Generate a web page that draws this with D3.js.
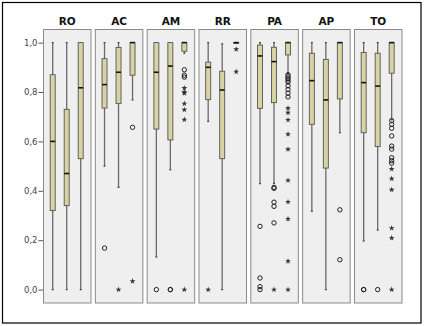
<!DOCTYPE html>
<html><head><meta charset="utf-8">
<script src="https://cdn.jsdelivr.net/npm/d3@7"></script>
<style>html,body{margin:0;padding:0;background:#fff;}svg{display:block;}</style>
</head><body>
<script>
const panels = ["RO","AC","AM","RR","PA","AP","TO"];
const yTicks = [0, 0.2, 0.4, 0.6, 0.8, 1.0];
// per panel, three boxes each
const whiskerLow  = [[0,0,0],[0.50,0.414,0.768],[0.132,0.485,0.957],[0.681,0,1],[0.429,0.43,0.875],[0.317,0,0.635],[0.197,0.241,0.687]];
const q1          = [[0.32,0.34,0.53],[0.735,0.753,0.868],[0.65,0.606,0.965],[0.769,0.53,1],[0.734,0.757,0.95],[0.669,0.492,0.772],[0.635,0.579,0.876]];
const median      = [[0.60,0.47,0.817],[0.83,0.88,1],[0.88,0.905,1],[0.90,0.808,1],[0.946,0.923,1],[0.846,0.768,1],[0.838,0.824,1]];
const q3          = [[0.87,0.73,1],[0.935,0.98,1],[1,1,1],[0.921,0.884,1],[0.99,0.981,1],[0.957,0.932,1],[0.96,0.957,1]];
const whiskerHigh = [[1,1,1],[1,1,1],[1,1,1],[1,0.995,1],[1,1,1],[1,1,1],[1,1,1]];
const circles = [
  [[],[],[]],
  [[0.168],[],[0.657]],
  [[0],[0,0],[0.89,0.868,0.86]],
  [[],[],[]],
  [[0.256,0.047,0.012,0],[0.414,0.41,0.354,0.337,0.27],[0.87,0.862,0.855,0.848,0.84,0.825,0.81,0.795,0.78]],
  [[],[],[0.323,0.121]],
  [[0,0],[0],[0.684,0.669,0.653,0.622,0.581,0.569,0.534,0.522,0.512]]
];
const stars = [
  [[],[],[]],
  [[],[0],[0.034]],
  [[],[],[0.816,0.80,0.795,0.753,0.728,0.688,0]],
  [[0],[],[0.973,0.882]],
  [[],[0],[0.734,0.716,0.687,0.629,0.568,0.442,0.355,0.286,0.115,0]],
  [[],[],[]],
  [[],[],[0.488,0.449,0.404,0.249,0.209,0]]
];

const W = 424, H = 326;
const svg = d3.select("body").append("svg").attr("width", W).attr("height", H);

svg.append("rect").attr("x", 2.5).attr("y", 2.5).attr("width", 418.5).attr("height", 320.5)
  .attr("fill", "#fff").attr("stroke", "#000").attr("stroke-width", 1.2);

const panelTop = 29.5, panelBottom = 303;
const x = d3.scaleBand().domain(panels).range([43.5, 402]).paddingInner(0.083);
const y = d3.scaleLinear().domain([0, 1]).range([289.6, 42.6]);
const inner = d3.scalePoint().domain([0,1,2]).range([9.2, 37.2]);

// axis
const axis = d3.axisLeft(y).tickValues(yTicks).tickSize(5).tickSizeOuter(0)
  .tickFormat(d => d3.format(".1f")(d).replace(".", ","));
const ax = svg.append("g").attr("transform", `translate(${x(panels[0])},0)`).call(axis);
ax.select(".domain").remove();
ax.selectAll(".tick line").attr("stroke", "#555");
ax.selectAll(".tick text").attr("fill", "#444").attr("font-family", "DejaVu Sans, sans-serif")
  .attr("font-size", 8.5).attr("x", -6);

const boxW = 5;
const star = d3.symbol().type(d3.symbolStar).size(11);

panels.forEach((p, i) => {
  const g = svg.append("g").attr("transform", `translate(${x(p)},0)`);
  g.append("rect").attr("x", 0).attr("y", panelTop).attr("width", x.bandwidth()).attr("height", panelBottom - panelTop)
    .attr("fill", "#efefef").attr("stroke", "#8a8a8a").attr("stroke-width", 1);
  svg.append("text").attr("x", x(p) + x.bandwidth() / 2).attr("y", 24.5)
    .attr("text-anchor", "middle").attr("font-family", "DejaVu Sans, sans-serif")
    .attr("font-weight", "bold").attr("font-size", 10.5).attr("fill", "#111").text(p);

  [0,1,2].forEach(j => {
    const cx = inner(j);
    // whisker
    g.append("line").attr("x1", cx).attr("x2", cx)
      .attr("y1", y(whiskerHigh[i][j])).attr("y2", y(whiskerLow[i][j]))
      .attr("stroke", "#6a6a6a").attr("stroke-width", 1.3);
    [whiskerHigh[i][j], whiskerLow[i][j]].forEach(v => {
      g.append("line").attr("x1", cx - 1).attr("x2", cx + 1).attr("y1", y(v)).attr("y2", y(v))
        .attr("stroke", "#444").attr("stroke-width", 1.2);
    });
    // box
    g.append("rect").attr("x", cx - boxW / 2).attr("width", boxW)
      .attr("y", y(q3[i][j])).attr("height", Math.max(0.8, y(q1[i][j]) - y(q3[i][j])))
      .attr("fill", "#d8d3a2").attr("stroke", "#555").attr("stroke-width", 0.9);
    g.append("line").attr("x1", cx - boxW / 2).attr("x2", cx + boxW / 2)
      .attr("y1", y(median[i][j])).attr("y2", y(median[i][j]))
      .attr("stroke", "#111").attr("stroke-width", 1.6);
    // outliers
    circles[i][j].forEach(v => {
      g.append("circle").attr("cx", cx).attr("cy", y(v)).attr("r", 2.2)
        .attr("fill", "none").attr("stroke", "#222").attr("stroke-width", 1);
    });
    stars[i][j].forEach(v => {
      g.append("path").attr("d", star).attr("transform", `translate(${cx},${y(v)})`)
        .attr("fill", "#333");
    });
  });
});
</script>
</body></html>
